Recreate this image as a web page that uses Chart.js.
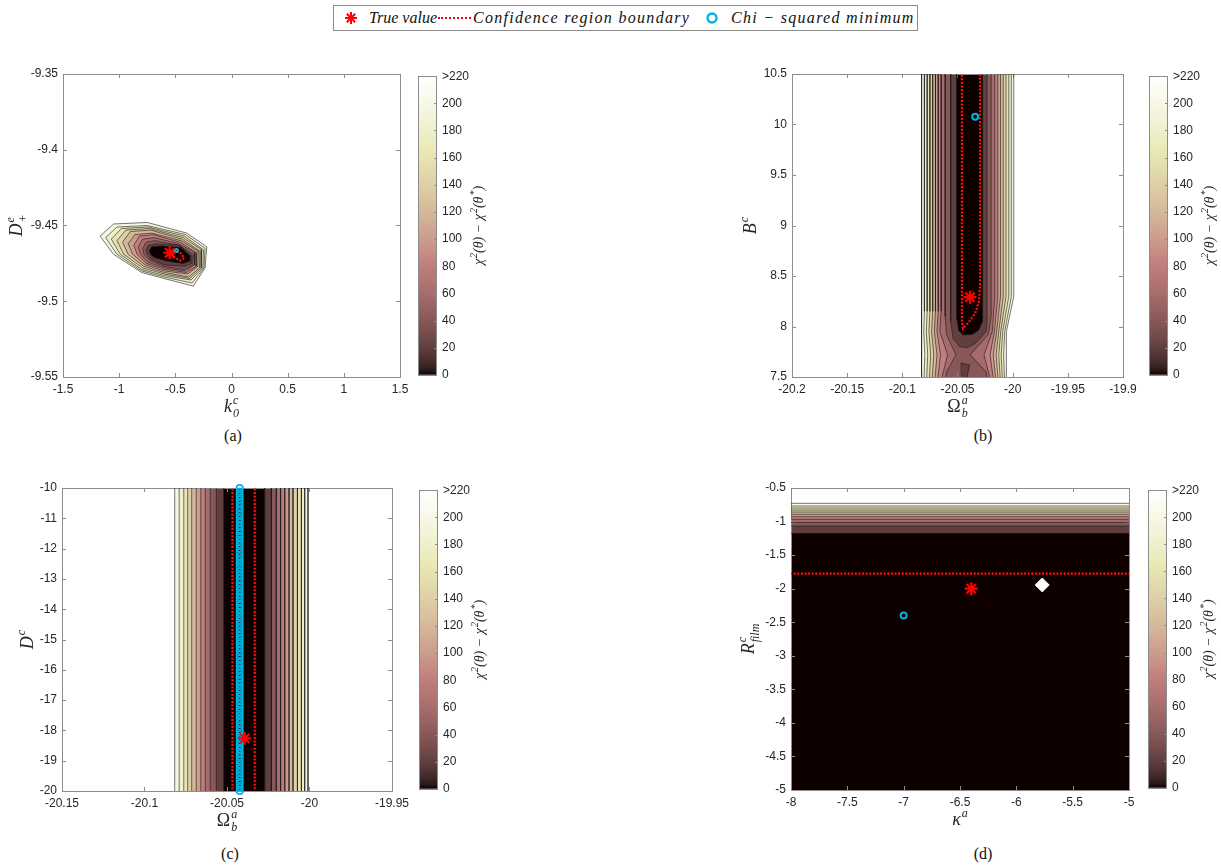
<!DOCTYPE html>
<html>
<head>
<meta charset="utf-8">
<script src="https://cdn.jsdelivr.net/npm/chart.js@4.4.1/dist/chart.umd.min.js"></script>
<style>
  body { margin: 0; width: 1221px; height: 868px; background: #fff; position: relative; overflow: hidden; font-family: "Liberation Serif", serif; }
  canvas { position: absolute; }
  .cap { position: absolute; font-size: 16px; color: #111; transform: translateX(-50%); }
  #legend { position: absolute; left: 333px; top: 5px; width: 585px; height: 26px; box-sizing: border-box; border: 1px solid #8c8c8c; background: #fff; }
  #legend span { position: absolute; top: 3px; font-style: italic; font-size: 16px; color: #111; white-space: nowrap; }
  #legend svg { position: absolute; top: 5px; }
  .dots { position: absolute; top: 11px; width: 33px; border-top: 2px dotted #ff0000; }
</style>
</head>
<body>
<div id="legend">
  <svg style="left:10px" width="14" height="14" viewBox="0 0 14 14">
    <g stroke="#ff0000" stroke-width="2"><line x1="7" y1="1" x2="7" y2="13"/><line x1="1" y1="7" x2="13" y2="7"/><line x1="2.8" y1="2.8" x2="11.2" y2="11.2"/><line x1="11.2" y1="2.8" x2="2.8" y2="11.2"/></g>
  </svg>
  <span style="left:35px">True value</span>
  <div class="dots" style="left:104px"></div>
  <span style="left:139px; letter-spacing:1.3px">Confidence region boundary</span>
  <svg style="left:371px" width="14" height="14" viewBox="0 0 14 14"><circle cx="7" cy="7" r="4.5" fill="none" stroke="#00b4e0" stroke-width="2.4"/></svg>
  <span style="left:397px; letter-spacing:1.3px">Chi − squared minimum</span>
</div>

<canvas id="pa"></canvas><canvas id="ca"></canvas>
<canvas id="pb"></canvas><canvas id="cb"></canvas>
<canvas id="pc"></canvas><canvas id="cc"></canvas>
<canvas id="pd"></canvas><canvas id="cd"></canvas>

<div class="cap" style="left:233px; top:427px">(a)</div>
<div class="cap" style="left:983px; top:427px">(b)</div>
<div class="cap" style="left:230px; top:845px">(c)</div>
<div class="cap" style="left:983px; top:845px">(d)</div>

<script>
// contour levels, outermost first
const levels = [220, 200, 180, 160, 140, 120, 100, 80, 60, 40, 20]
const cbTicks = [0, 20, 40, 60, 80, 100, 120, 140, 160, 180, 200, 220]
const cbTickLabels = ['0', '20', '40', '60', '80', '100', '120', '140', '160', '180', '200', '>220']

// (a) k0c vs D+e
const xTicksA = [-1.5, -1, -0.5, 0, 0.5, 1, 1.5]
const yTicksA = [-9.55, -9.5, -9.45, -9.4, -9.35]
const ringsA = [
  [[-1.17, -9.457], [-1.05, -9.449], [-0.75, -9.448], [-0.40, -9.455], [-0.22, -9.464], [-0.235, -9.478], [-0.34, -9.490], [-0.60, -9.485], [-0.80, -9.481], [-1.05, -9.469]],
  [[-1.12, -9.458], [-1.02, -9.451], [-0.75, -9.450], [-0.41, -9.456], [-0.235, -9.465], [-0.245, -9.478], [-0.35, -9.488], [-0.60, -9.484], [-0.80, -9.480], [-1.02, -9.469]],
  [[-1.07, -9.459], [-0.98, -9.452], [-0.74, -9.451], [-0.42, -9.457], [-0.25, -9.466], [-0.255, -9.478], [-0.36, -9.486], [-0.60, -9.483], [-0.80, -9.479], [-0.99, -9.469]],
  [[-1.02, -9.460], [-0.94, -9.453], [-0.73, -9.452], [-0.43, -9.458], [-0.265, -9.466], [-0.27, -9.478], [-0.37, -9.485], [-0.60, -9.482], [-0.79, -9.478], [-0.96, -9.469]],
  [[-0.97, -9.461], [-0.90, -9.454], [-0.72, -9.453], [-0.44, -9.459], [-0.28, -9.467], [-0.285, -9.478], [-0.38, -9.484], [-0.60, -9.481], [-0.78, -9.477], [-0.92, -9.469]],
  [[-0.92, -9.462], [-0.86, -9.456], [-0.71, -9.455], [-0.45, -9.460], [-0.295, -9.467], [-0.30, -9.477], [-0.39, -9.482], [-0.60, -9.480], [-0.77, -9.476], [-0.88, -9.469]],
  [[-0.87, -9.463], [-0.82, -9.457], [-0.70, -9.456], [-0.46, -9.461], [-0.31, -9.468], [-0.315, -9.477], [-0.40, -9.481], [-0.60, -9.479], [-0.76, -9.475], [-0.84, -9.469]],
  [[-0.83, -9.464], [-0.79, -9.459], [-0.69, -9.458], [-0.47, -9.462], [-0.325, -9.468], [-0.33, -9.476], [-0.41, -9.480], [-0.60, -9.478], [-0.75, -9.474], [-0.81, -9.469]],
  [[-0.79, -9.465], [-0.76, -9.461], [-0.68, -9.460], [-0.47, -9.463], [-0.34, -9.469], [-0.345, -9.476], [-0.42, -9.479], [-0.60, -9.477], [-0.73, -9.473], [-0.78, -9.469]],
  [[-0.76, -9.466], [-0.74, -9.463], [-0.66, -9.462], [-0.46, -9.463], [-0.35, -9.470], [-0.355, -9.475], [-0.42, -9.477], [-0.60, -9.476], [-0.72, -9.472], [-0.75, -9.469]],
  [[-0.73, -9.4665], [-0.71, -9.464], [-0.62, -9.4635], [-0.45, -9.4645], [-0.37, -9.470], [-0.37, -9.4735], [-0.43, -9.475], [-0.58, -9.4735], [-0.69, -9.471], [-0.72, -9.469]]
]
const confA = [[-0.52, -9.4668], [-0.46, -9.4675], [-0.42, -9.4715], [-0.46, -9.4732], [-0.52, -9.4705]]
const trueA = [-0.55, -9.468]
const chiA = [-0.49, -9.4665]

// (b) Omega_b^a vs B^c
const xTicksB = [-20.2, -20.15, -20.1, -20.05, -20, -19.95, -19.9]
const yTicksB = [7.5, 8, 8.5, 9, 9.5, 10, 10.5]
const levelsB = [220, 200, 180, 160, 140, 120, 100, 80, 60, 40, 40, 20]
const polysB = [
  [[-20.0825, 10.6], [-20.0825, 8.15], [-20.0828, 7.95], [-20.0822, 7.72], [-20.0828, 7.4], [-20.0054, 7.4], [-20.0060, 7.72], [-20.0054, 7.95], [-19.9990, 8.3], [-19.9990, 10.6]],
  [[-20.0800, 10.6], [-20.0800, 8.15], [-20.0806, 7.95], [-20.0796, 7.72], [-20.0806, 7.4], [-20.0072, 7.4], [-20.0082, 7.72], [-20.0072, 7.95], [-20.0012, 8.3], [-20.0012, 10.6]],
  [[-20.0775, 10.6], [-20.0775, 8.15], [-20.0783, 7.95], [-20.0770, 7.72], [-20.0783, 7.4], [-20.0090, 7.4], [-20.0104, 7.72], [-20.0090, 7.95], [-20.0035, 8.3], [-20.0035, 10.6]],
  [[-20.0750, 10.6], [-20.0750, 8.15], [-20.0759, 7.95], [-20.0743, 7.72], [-20.0759, 7.4], [-20.0108, 7.4], [-20.0126, 7.72], [-20.0108, 7.95], [-20.0060, 8.3], [-20.0060, 10.6]],
  [[-20.0725, 10.6], [-20.0725, 8.15], [-20.0735, 7.95], [-20.0715, 7.72], [-20.0735, 7.4], [-20.0126, 7.4], [-20.0150, 7.72], [-20.0126, 7.95], [-20.0085, 8.3], [-20.0085, 10.6]],
  [[-20.0700, 10.6], [-20.0700, 8.15], [-20.0710, 7.95], [-20.0686, 7.72], [-20.0710, 7.4], [-20.0145, 7.4], [-20.0176, 7.72], [-20.0145, 7.95], [-20.0110, 8.3], [-20.0110, 10.6]],
  [[-20.0675, 10.6], [-20.0675, 8.15], [-20.0686, 7.95], [-20.0655, 7.72], [-20.0686, 7.4], [-20.0165, 7.4], [-20.0205, 7.72], [-20.0165, 7.95], [-20.0135, 8.3], [-20.0135, 10.6]],
  [[-20.0648, 10.6], [-20.0648, 8.15], [-20.0660, 7.95], [-20.0590, 7.72], [-20.0662, 7.4], [-20.0185, 7.4], [-20.0260, 7.72], [-20.0185, 7.95], [-20.0162, 8.3], [-20.0162, 10.6]],
  [[-20.0612, 10.6], [-20.0612, 8.1], [-20.0600, 7.92], [-20.0515, 7.72], [-20.0600, 7.55], [-20.0615, 7.4], [-20.0220, 7.4], [-20.0240, 7.55], [-20.0385, 7.72], [-20.0220, 7.92], [-20.0195, 8.1], [-20.0195, 10.6]],
  [[-20.0562, 10.6], [-20.0562, 8.05], [-20.0540, 7.88], [-20.0480, 7.80], [-20.0420, 7.79], [-20.0340, 7.83], [-20.0240, 7.95], [-20.0232, 8.05], [-20.0232, 10.6]],
  [[-20.0468, 7.64], [-20.0390, 7.62], [-20.0410, 7.52], [-20.0425, 7.4], [-20.0455, 7.4], [-20.0460, 7.52]],
  [[-20.0507, 10.6], [-20.0507, 8.08], [-20.0490, 7.96], [-20.0450, 7.915], [-20.0370, 7.92], [-20.0310, 7.96], [-20.0272, 8.05], [-20.0272, 10.6]]
]
const confB = [[-20.046, 10.6], [-20.046, 8.05], [-20.045, 7.98], [-20.040, 8.04], [-20.034, 8.13], [-20.0305, 8.25], [-20.0296, 8.4], [-20.0296, 10.6]]
const trueB = [-20.0387, 8.29]
const chiB = [-20.034, 10.077]

// (c) Omega_b^a vs D^c
const xTicksC = [-20.15, -20.1, -20.05, -20, -19.95]
const yTicksC = [-20, -19, -18, -17, -16, -15, -14, -13, -12, -11, -10]
const bandLeftC = [-20.0817, -20.0790, -20.0762, -20.0738, -20.0714, -20.0687, -20.0659, -20.0632, -20.0602, -20.0565, -20.0520]
const bandRightC = [-20.0009, -20.0029, -20.0049, -20.0073, -20.0100, -20.0124, -20.0150, -20.0175, -20.0201, -20.0231, -20.0272]
const confCX = [-20.0467, -20.0332]
const trueC = [-20.0393, -18.26]
const chiCX = -20.0423
const chiCY = [
  -20, -19.875, -19.75, -19.625, -19.5, -19.375, -19.25, -19.125,
  -19, -18.875, -18.75, -18.625, -18.5, -18.375, -18.25, -18.125,
  -18, -17.875, -17.75, -17.625, -17.5, -17.375, -17.25, -17.125,
  -17, -16.875, -16.75, -16.625, -16.5, -16.375, -16.25, -16.125,
  -16, -15.875, -15.75, -15.625, -15.5, -15.375, -15.25, -15.125,
  -15, -14.875, -14.75, -14.625, -14.5, -14.375, -14.25, -14.125,
  -14, -13.875, -13.75, -13.625, -13.5, -13.375, -13.25, -13.125,
  -13, -12.875, -12.75, -12.625, -12.5, -12.375, -12.25, -12.125,
  -12, -11.875, -11.75, -11.625, -11.5, -11.375, -11.25, -11.125,
  -11, -10.875, -10.75, -10.625, -10.5, -10.375, -10.25, -10.125,
  -10
]

// (d) kappa^a vs R_film^c
const xTicksD = [-8, -7.5, -7, -6.5, -6, -5.5, -5]
const yTicksD = [-5, -4.5, -4, -3.5, -3, -2.5, -2, -1.5, -1, -0.5]
const bandTopD = [-0.728, -0.768, -0.798, -0.828, -0.858, -0.892, -0.928, -0.967, -1.012, -1.067, -1.176]
const confDY = -1.777
const trueD = [-6.4, -2]
const chiD = [-7, -2.4]
const extraD = [-5.77, -1.945]

const TICK_FONT = '"Liberation Sans", Arial, sans-serif'
const TEXT = '#262626'
const BOX = '#8c8c8c'

// MATLAB "pink" colormap, 256 entries over 0..220
function pinkAt(v) {
  const i = Math.max(0, Math.min(255, Math.floor(v / 220 * 256)))
  const g = i / 255
  const hr = Math.min(1, (i + 1) / 96)
  const hg = Math.min(1, Math.max(0, (i + 1 - 96) / 96))
  const hb = Math.min(1, Math.max(0, (i + 1 - 192) / 64))
  const c = h => Math.round(255 * Math.sqrt((2 * g + h) / 3))
  return `rgb(${c(hr)},${c(hg)},${c(hb)})`
}

// text with stacked super/subscripts
function drawMath(ctx, parts, x, y, rot, size) {
  const big = `italic ${size}px "Liberation Serif", serif`
  const up = `${size}px "Liberation Serif", serif`
  const small = `italic ${Math.round(size * 0.68)}px "Liberation Serif", serif`
  let w = 0
  const widths = parts.map(p => {
    let pw
    if (p.t !== undefined) { ctx.font = p.up ? up : big; pw = ctx.measureText(p.t).width }
    else { ctx.font = small; pw = Math.max(ctx.measureText(p.sup || '').width, ctx.measureText(p.sub || '').width) + 1 }
    w += pw
    return pw
  })
  ctx.save()
  ctx.translate(x, y)
  ctx.rotate(rot)
  ctx.fillStyle = TEXT
  ctx.textBaseline = 'alphabetic'
  ctx.textAlign = 'left'
  let cx = -w / 2
  const base = size * 0.33
  parts.forEach((p, i) => {
    if (p.t !== undefined) {
      ctx.font = p.up ? up : big
      ctx.fillText(p.t, cx, base)
    } else {
      ctx.font = small
      if (p.sup) ctx.fillText(p.sup, cx + 1, base - size * 0.42)
      if (p.sub) ctx.fillText(p.sub, cx + 1, base + size * 0.28)
    }
    cx += widths[i]
  })
  ctx.restore()
}

const cbLabel = [{ t: 'χ' }, { sup: '2' }, { t: '(θ) − χ' }, { sup: '2' }, { t: '(θ' }, { sup: '*' }, { t: ')' }]

function insideTicks(ctx, scale, a, horizontal, len) {
  scale.ticks.forEach(t => {
    const p = Math.round(scale.getPixelForValue(t.value)) + 0.5
    ctx.beginPath()
    if (horizontal) {
      ctx.moveTo(p, a.bottom); ctx.lineTo(p, a.bottom - len)
      ctx.moveTo(p, a.top); ctx.lineTo(p, a.top + len)
    } else {
      ctx.moveTo(a.left, p); ctx.lineTo(a.left + len, p)
      ctx.moveTo(a.right, p); ctx.lineTo(a.right - len, p)
    }
    ctx.stroke()
  })
}

// fills contour polygons, draws the axes box, inside ticks and math labels
const framePlugin = {
  id: 'frame',
  beforeDatasetsDraw(chart) {
    const { ctx, chartArea: a } = chart
    ctx.save()
    ctx.beginPath()
    ctx.rect(a.left, a.top, a.right - a.left, a.bottom - a.top)
    ctx.clip()
    chart.data.datasets.forEach((ds, i) => {
      if (!ds.areaColor) return
      const pts = chart.getDatasetMeta(i).data
      ctx.beginPath()
      pts.forEach((p, j) => j ? ctx.lineTo(p.x, p.y) : ctx.moveTo(p.x, p.y))
      ctx.closePath()
      ctx.fillStyle = ds.areaColor
      ctx.fill()
    })
    ctx.restore()
    ctx.save()
    ctx.strokeStyle = BOX
    ctx.lineWidth = 1
    insideTicks(ctx, chart.scales.x, a, true, 4)
    insideTicks(ctx, chart.scales.y, a, false, 4)
    ctx.strokeRect(Math.round(a.left) + 0.5, Math.round(a.top) + 0.5, Math.round(a.right - a.left), Math.round(a.bottom - a.top))
    ctx.restore()
  },
  afterDraw(chart, args, o) {
    const { ctx, chartArea: a } = chart
    drawMath(ctx, o.xLabel, (a.left + a.right) / 2, a.bottom + 29, 0, 18)
    drawMath(ctx, o.yLabel, a.left - o.yOff, (a.top + a.bottom) / 2, -Math.PI / 2, 18)
  }
}

const cbPlugin = {
  id: 'cbframe',
  afterDraw(chart) {
    const { ctx, chartArea: a } = chart
    ctx.save()
    ctx.strokeStyle = BOX
    ctx.lineWidth = 1
    const y = chart.scales.y
    y.ticks.forEach(t => {
      const p = Math.round(y.getPixelForValue(t.value)) + 0.5
      ctx.beginPath(); ctx.moveTo(a.right, p); ctx.lineTo(a.right - 3, p); ctx.stroke()
    })
    ctx.strokeRect(Math.round(a.left) + 0.5, Math.round(a.top) + 0.5, Math.round(a.right - a.left) - 1, Math.round(a.bottom - a.top))
    ctx.restore()
    drawMath(ctx, cbLabel, a.right + 41, (a.top + a.bottom) / 2, -Math.PI / 2, 14)
  }
}

const pair = ([x, y]) => ({ x, y })
const closed = pts => pts.concat([pts[0]]).map(pair)

function contours(polys, lv) {
  return polys.map((p, i) => ({
    data: closed(p), showLine: true, pointRadius: 0, borderColor: '#1a1a1a', borderWidth: 0.6,
    areaColor: pinkAt(lv[i] - 20), order: 3, clip: 0
  }))
}
const starSet = p => ({ data: [pair(p)], pointStyle: 'star', pointRadius: 6.5, borderColor: '#ff0000', borderWidth: 2.2, order: 0, clip: false })
const ringSet = (pts, r, w) => ({ data: pts, pointStyle: 'circle', pointRadius: r, borderColor: '#00b4e0', backgroundColor: 'rgba(0,0,0,0)', pointBackgroundColor: 'rgba(0,0,0,0)', borderWidth: w || 2, order: 1, clip: false })
const dotSet = pts => ({ data: pts, showLine: true, pointRadius: 0, borderColor: '#ff1010', borderWidth: 2.2, borderDash: [2, 1.6], order: 2, clip: 0 })

function axis(min, max, ticks, fit) {
  return {
    type: 'linear', min, max,
    grid: { display: false, drawTicks: false }, border: { display: false },
    afterBuildTicks: s => { s.ticks = ticks.map(v => ({ value: v })) },
    afterFit: fit,
    ticks: { callback: v => String(v), padding: 5, color: TEXT, font: { family: TICK_FONT, size: 12 }, maxRotation: 0, autoSkip: false }
  }
}

function place(el, left, top, w, h) {
  el.width = w; el.height = h
  el.style.left = left + 'px'; el.style.top = top + 'px'
}

function panel(id, area, yw, xr, yr, xt, yt, datasets, labels) {
  const [l, t, r, b] = area
  const el = document.getElementById(id)
  place(el, l - yw, t - 14, yw + (r - l) + 26, (b - t) + 14 + 50)
  new Chart(el, {
    type: 'scatter',
    data: { datasets },
    options: {
      responsive: false, animation: false, events: [],
      layout: { padding: { top: 14, right: 26, left: 0, bottom: 0 } },
      plugins: { legend: { display: false }, tooltip: { enabled: false }, frame: labels },
      scales: {
        x: axis(xr[0], xr[1], xt, s => { s.height = 50 }),
        y: axis(yr[0], yr[1], yt, s => { s.width = yw })
      }
    },
    plugins: [framePlugin]
  })
}

function cbGradient(chart) {
  if (!chart.chartArea) return '#000'
  const y = chart.scales.y
  const g = chart.ctx.createLinearGradient(0, y.getPixelForValue(0), 0, y.getPixelForValue(220))
  for (let i = 0; i < 64; i++) g.addColorStop(i / 63, pinkAt(i / 63 * 219.9))
  return g
}

function colorbar(id, left, top, bottom) {
  const el = document.getElementById(id)
  place(el, left, top - 10, 19 + 62, bottom - top + 20)
  new Chart(el, {
    type: 'bar',
    data: { labels: [''], datasets: [{ data: [[0, 220]], backgroundColor: c => cbGradient(c.chart), borderWidth: 0, barPercentage: 1, categoryPercentage: 1 }] },
    options: {
      responsive: false, animation: false, events: [],
      layout: { padding: { top: 10, bottom: 10, left: 0, right: 0 } },
      plugins: { legend: { display: false }, tooltip: { enabled: false } },
      scales: {
        x: { display: false },
        y: {
          position: 'right', min: 0, max: 220,
          grid: { display: false, drawTicks: false }, border: { display: false },
          afterBuildTicks: s => { s.ticks = cbTicks.map(v => ({ value: v })) },
          afterFit: s => { s.width = 62 },
          ticks: { callback: (v, i) => cbTickLabels[i], padding: 5, color: TEXT, font: { family: TICK_FONT, size: 12 } }
        }
      }
    },
    plugins: [cbPlugin]
  })
}

const OMEGA = [{ t: 'Ω', up: true }, { sup: 'a', sub: 'b' }]

// (a)
panel('pa', [63, 74, 400, 377], 63, [-1.5, 1.5], [-9.55, -9.35], xTicksA, yTicksA, [
  starSet(trueA),
  ringSet([pair(chiA)], 1.5),
  dotSet(closed(confA)),
  ...contours(ringsA, levels)
], { xLabel: [{ t: 'k' }, { sup: 'c', sub: '0' }], yLabel: [{ t: 'D' }, { sup: 'e', sub: '+' }], yOff: 47 })
colorbar('ca', 418, 74, 377)

// (b)
panel('pb', [792, 74, 1123, 377], 80, [-20.2, -19.9], [7.5, 10.5], xTicksB, yTicksB, [
  starSet(trueB),
  ringSet([pair(chiB)], 3),
  dotSet(confB.map(pair)),
  ...contours(polysB, levelsB)
], { xLabel: OMEGA, yLabel: [{ t: 'B' }, { sup: 'c' }], yOff: 42 })
colorbar('cb', 1149, 74, 377)

// (c)
const rectsC = bandLeftC.map((xl, i) => [[xl, -20.3], [xl, -9.7], [bandRightC[i], -9.7], [bandRightC[i], -20.3]])
panel('pc', [62, 488, 392, 791], 62, [-20.15, -19.95], [-20, -10], xTicksC, yTicksC, [
  starSet(trueC),
  ringSet(chiCY.map(y => ({ x: chiCX, y })), 3.2, 1.7),
  dotSet([{ x: confCX[0], y: -20.3 }, { x: confCX[0], y: -9.7 }]),
  dotSet([{ x: confCX[1], y: -20.3 }, { x: confCX[1], y: -9.7 }]),
  ...contours(rectsC, levels)
], { xLabel: OMEGA, yLabel: [{ t: 'D' }, { sup: 'c' }], yOff: 35 })
colorbar('cc', 419, 488, 791)

// (d)
const rectsD = bandTopD.map(y => [[-8.2, y], [-4.8, y], [-4.8, -5.2], [-8.2, -5.2]])
panel('pd', [791, 488, 1129, 790], 80, [-8, -5], [-5, -0.5], xTicksD, yTicksD, [
  { data: [pair(extraD)], pointStyle: 'rectRot', pointRadius: 7, backgroundColor: '#ffffff', pointBackgroundColor: '#ffffff', borderColor: '#ffffff', borderWidth: 1, order: 0, clip: false },
  starSet(trueD),
  ringSet([pair(chiD)], 3),
  dotSet([{ x: -8.2, y: confDY }, { x: -4.8, y: confDY }]),
  ...contours(rectsD, levels)
], { xLabel: [{ t: 'κ' }, { sup: 'a' }], yLabel: [{ t: 'R' }, { sup: 'c', sub: 'film' }], yOff: 43 })
colorbar('cd', 1148, 488, 790)
</script>
</body>
</html>
